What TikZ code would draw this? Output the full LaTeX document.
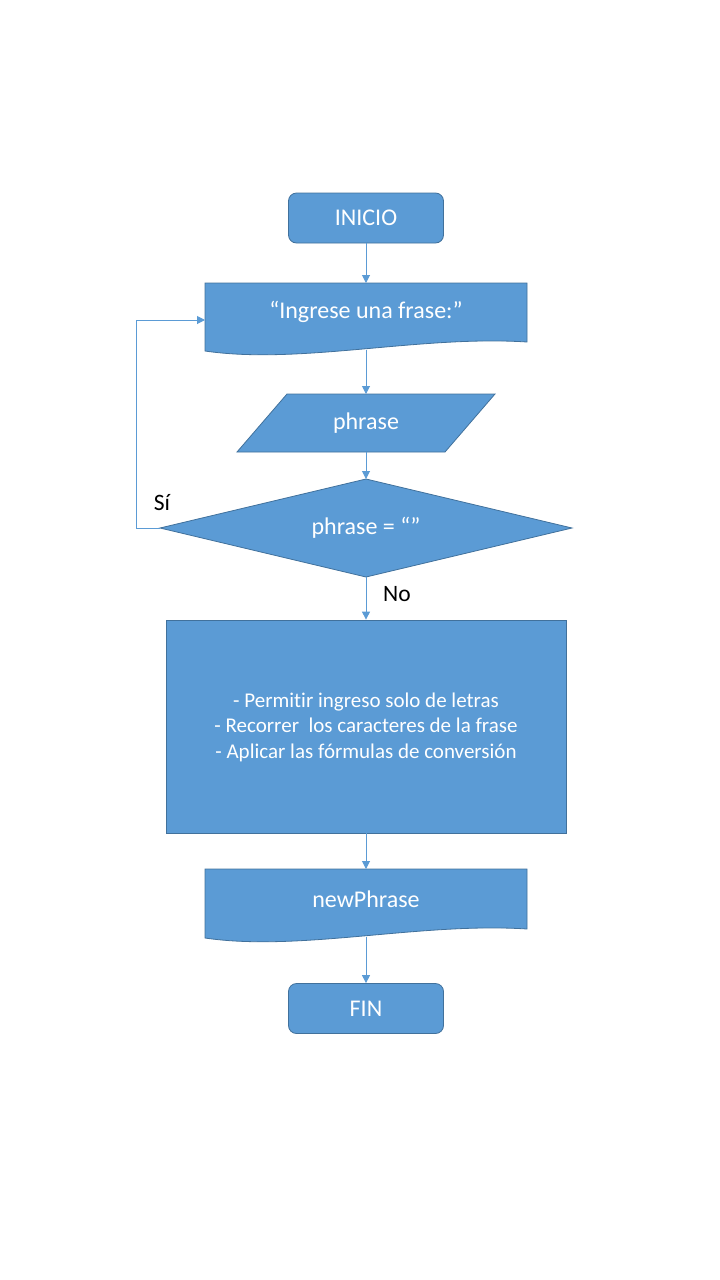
\documentclass[tikz,border=0pt]{standalone}
\usepackage{fontspec}
\setmainfont{Carlito}[Ligatures=NoCommon]
\usetikzlibrary{arrows.meta}
\definecolor{fillblue}{HTML}{5B9BD5}
\definecolor{edgeblue}{HTML}{41719C}
\begin{document}
\begin{tikzpicture}[x=1pt,y=-1pt,
  shapefill/.style={fill=fillblue,draw=edgeblue,line width=0.8pt},
  term/.style={shapefill,rounded corners=8pt,minimum width=155pt,minimum height=50pt,inner sep=0pt,text=white,font=\fontsize{24}{28}\selectfont},
  lbl/.style={text=white,font=\fontsize{24}{28}\selectfont,inner sep=0pt},
  plbl/.style={text=white,font=\fontsize{21}{25.5}\selectfont,align=center,inner sep=0pt},
  side/.style={text=black,font=\fontsize{23.5}{27}\selectfont,inner sep=0pt},
  conn/.style={draw=fillblue,line width=1pt,-{Triangle[width=8pt,length=8pt]}}]
\useasboundingbox (0,0) rectangle (720,1280);

% INICIO
\node[term] (inicio) at (366,218) {INICIO};

% Document: Ingrese una frase
\draw[shapefill] (205,283) -- (527,283) -- (527,342)
  .. controls (420,335) and (300,365) .. (205,351) -- cycle;
\node[lbl] (ingrese) at (366,312) {“Ingrese una frase:”};
\coordinate (ingtop) at (366,283);
\coordinate (ingbot) at (366,349.5);
\coordinate (ingleft) at (205,320);

% Parallelogram: phrase
\draw[shapefill] (287,394) -- (495,394) -- (445,452) -- (237,452) -- cycle;
\node[lbl] (phrase) at (366,423) {phrase};
\coordinate (phtop) at (366,394);
\coordinate (phbot) at (366,452);

% Diamond
\draw[shapefill] (366,479) -- (572,528) -- (366,577) -- (160,528) -- cycle;
\node[lbl] (cond) at (366,528) {phrase = “”};
\coordinate (dtop) at (366,479);
\coordinate (dbot) at (366,577);
\coordinate (dleft) at (160,528);
\coordinate (loopA) at (136,528);
\coordinate (loopB) at (136,320);

% Process
\node[shapefill,minimum width=400pt,minimum height=213pt,inner sep=0pt] (proc) at (366,726.5) {};
\node[plbl] (proctext) at (366,727) {- Permitir ingreso solo de letras\\- Recorrer\ \ los caracteres de la frase\\- Aplicar las fórmulas de conversión};

% Document: newPhrase
\draw[shapefill] (205,869) -- (527,869) -- (527,929)
  .. controls (420,922) and (300,952) .. (205,938) -- cycle;
\node[lbl] (newp) at (366,899) {newPhrase};
\coordinate (nptop) at (366,869);
\coordinate (npbot) at (366,936.5);

% FIN
\node[term] (fin) at (366,1008.5) {FIN};

% Labels
\node[side] (si) at (162,503) {Sí};
\node[side] (no) at (397,594) {No};

% Connectors
\draw[conn] (inicio.south) -- (ingtop);
\draw[conn] (ingbot) -- (phtop);
\draw[conn] (phbot) -- (dtop);
\draw[conn] (dbot) -- (proc.north);
\draw[conn] (proc.south) -- (nptop);
\draw[conn] (npbot) -- (fin.north);
\draw[conn] (dleft) -- (loopA) -- (loopB) -- (ingleft);
\end{tikzpicture}
\end{document}
